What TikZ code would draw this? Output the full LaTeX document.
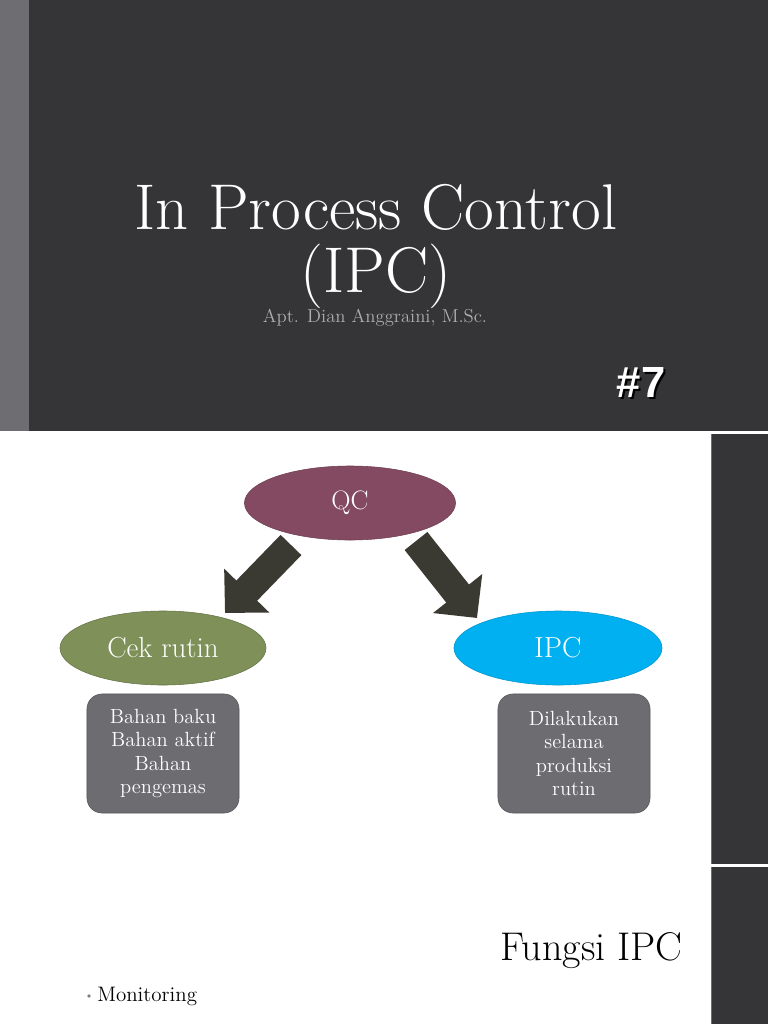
\documentclass[tikz,border=0pt]{standalone}
\usepackage{fontspec}
\newfontfamily\headsans{Liberation Sans}
\usetikzlibrary{shapes.geometric,arrows.meta,calc}

\definecolor{slidedark}{HTML}{353537}
\definecolor{stripegray}{HTML}{6E6D72}
\definecolor{qcred}{HTML}{834A62}
\definecolor{cekgreen}{HTML}{7F9159}
\definecolor{ipcblue}{HTML}{00B0F0}
\definecolor{arrowdark}{HTML}{3B3A32}
\definecolor{boxgray}{HTML}{6D6C71}

\tikzset{
  oval/.style={ellipse, inner sep=0pt, minimum width=5.2cm, minimum height=1.85cm,
    text=white},
  infobox/.style={rectangle, rounded corners=0.375cm, fill=boxgray, draw=boxgray!80!black,
    minimum width=3.8cm, minimum height=2.975cm, align=center, text=white,
    font=\fontsize{14.6}{16.6}\selectfont},
  bigarrow/.style={draw=arrowdark, line width=0.725cm,
    -{Triangle[length=0.78cm, width=1.525cm]}, arrowdark}
}

\begin{document}
\begin{tikzpicture}[x=0.025cm,y=-0.025cm]
\useasboundingbox (0,0) rectangle (768,1024);

% title slide
\fill[slidedark] (0,0) rectangle (768,431);
\fill[stripegray] (0,0) rectangle (29,431);
\node[anchor=base, text=white, font=\fontsize{46}{48}\selectfont] (title) at (376,230) {In Process Control};
\node[anchor=base, text=white, font=\fontsize{46}{48}\selectfont] (titleipc) at (376,292) {(IPC)};
\node[anchor=base, text=white!60!slidedark, font=\fontsize{13.3}{15}\selectfont] (author) at (375,322) {Apt. Dian Anggraini, M.Sc.};
\node[anchor=base, text=black, font=\headsans\bfseries\fontsize{31}{34}\selectfont] (numshadow) at (643,399) {\#7};
\node[anchor=base, text=white, font=\headsans\bfseries\fontsize{31}{34}\selectfont] (num) at (641,397) {\#7};

% second slide
\fill[white] (0,431) rectangle (768,1024);
\fill[slidedark] (711,434) rectangle (768,864);
\fill[slidedark] (711,867) rectangle (768,1024);
\draw[stripegray, line width=0.6pt] (711.5,434) -- (711.5,864) (711.5,867) -- (711.5,1024);

\node[oval, fill=qcred, draw=qcred!85!black, minimum width=5.275cm, font=\fontsize{19}{22}\selectfont] (qc) at (350,503) {QC};
\node[oval, fill=cekgreen, draw=cekgreen!80!black, minimum width=5.15cm, font=\fontsize{20.6}{24}\selectfont] (cek) at (163,648) {Cek rutin};
\node[oval, fill=ipcblue, draw=ipcblue!85!black, font=\fontsize{20.6}{24}\selectfont] (ipc) at (558,648) {IPC};

\draw[bigarrow] ($(qc)+(-59,42)$) -- ($(cek)+(62,-35)$);
\draw[bigarrow] ($(qc)+(66,38)$) -- ($(ipc)+(-81,-30)$);

\node[infobox] (bahan) at (163,753.5) {Bahan baku\\Bahan aktif\\Bahan\\pengemas};
\node[infobox] (produksi) at (574,753.5) {Dilakukan\\selama\\produksi\\rutin};

\node[anchor=base east, inner sep=0pt, font=\fontsize{28.5}{32}\selectfont] (fungsi) at (683,960) {Fungsi IPC};
\fill[gray] (89,996) circle (1.8);
\node[anchor=base west, inner sep=0pt, font=\fontsize{14.9}{17}\selectfont] (monitor) at (97,1001) {Monitoring};
\end{tikzpicture}
\end{document}
